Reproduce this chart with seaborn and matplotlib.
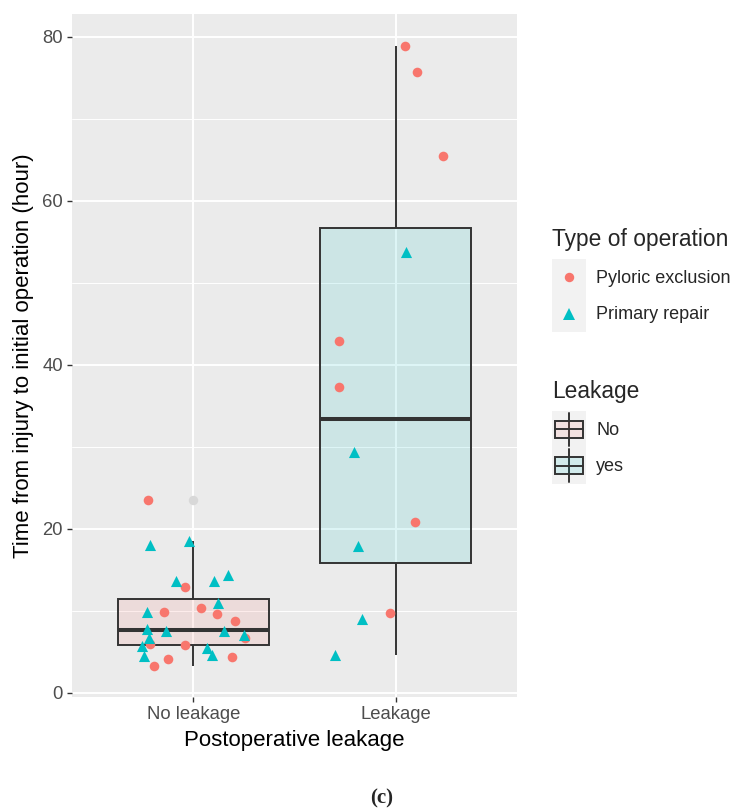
import numpy as np
import pandas as pd
import matplotlib
matplotlib.use("Agg")
import matplotlib.pyplot as plt
import seaborn as sns
from matplotlib.legend_handler import HandlerBase
from matplotlib.patches import Rectangle
from matplotlib.lines import Line2D
from matplotlib.colors import to_rgba

# ---------------- data ----------------
groups = ["No leakage", "Leakage"]
op_types = ["Pyloric exclusion", "Primary repair"]
leak_levels = ["No", "yes"]

# P = Pyloric exclusion, R = Primary repair
no_leak_type = ["P", "R", "R", "R", "P", "R", "R", "R", "P", "P", "P", "P", "R", "R",
                "R", "R", "R", "P", "R", "P", "R", "P", "R", "R", "R", "P", "P", "P"]
no_leak_hours = [23.5, 18.0, 18.5, 13.6, 12.9, 13.6, 14.4, 11.0, 9.9, 10.3, 9.6, 8.8, 9.9, 7.8,
                 7.6, 7.5, 7.1, 6.7, 6.7, 6.0, 5.7, 5.9, 5.5, 4.6, 4.5, 4.1, 4.4, 3.3]
no_leak_jitter = [-0.225, -0.214, -0.023, -0.088, -0.043, 0.104, 0.171, 0.123, -0.143, 0.040,
                  0.119, 0.204, -0.230, -0.230, -0.133, 0.151, 0.250, 0.254, -0.220, -0.214,
                  -0.254, -0.043, 0.068, 0.093, -0.244, -0.123, 0.193, -0.193]

leak_type = ["P", "P", "P", "R", "P", "P", "R", "P", "R", "P", "R", "R"]
leak_hours = [78.9, 75.7, 65.5, 53.8, 42.9, 37.3, 29.4, 20.8, 17.9, 9.8, 9.05, 4.6]
leak_jitter = [0.044, 0.107, 0.234, 0.049, -0.282, -0.282, -0.206, 0.096, -0.186, -0.030,
               -0.165, -0.298]

type_names = {"P": op_types[0], "R": op_types[1]}
df = pd.DataFrame({
    "group": [groups[0]] * len(no_leak_hours) + [groups[1]] * len(leak_hours),
    "hours": no_leak_hours + leak_hours,
    "jitter": no_leak_jitter + leak_jitter,
    "operation": [type_names[t] for t in no_leak_type + leak_type],
})
df["pos"] = df["group"].map({g: i for i, g in enumerate(groups)}) + df["jitter"]

# ---------------- style ----------------
pt_colors = {op_types[0]: "#F8766D", op_types[1]: "#00BFC4"}
pt_markers = {op_types[0]: "o", op_types[1]: "^"}
pt_sizes = {op_types[0]: 48, op_types[1]: 64}
box_colors = {groups[0]: "#F8766D", groups[1]: "#00BFC4"}
box_alpha = 0.13
line_col = "#333333"

sns.set_style("darkgrid", {"axes.facecolor": "#EBEBEB", "grid.color": "white",
                           "figure.facecolor": "white"})
plt.rcParams["font.family"] = ["Liberation Sans", "DejaVu Sans"]

fig = plt.figure(figsize=(7.41, 8.11), dpi=100)
ax = fig.add_axes([72 / 741, 1 - 697 / 811, 445 / 741, 683 / 811])

sns.boxplot(data=df, x="group", y="hours", order=groups, hue="group", hue_order=groups,
            palette=box_colors, width=0.75, linecolor=line_col, linewidth=1.4,
            showcaps=False, legend=False, ax=ax,
            flierprops=dict(marker="o", markerfacecolor="#D8D8D8", markeredgecolor="none",
                            markersize=6.8),
            medianprops=dict(linewidth=2.9, color=line_col))
for patch, g in zip(ax.patches, groups):
    patch.set_facecolor(to_rgba(box_colors[g], box_alpha))
    patch.set_edgecolor(line_col)

for op in op_types:
    sub = df[df["operation"] == op]
    sns.scatterplot(data=sub, x="pos", y="hours", color=pt_colors[op], marker=pt_markers[op],
                    s=pt_sizes[op], linewidth=0, legend=False, zorder=4, ax=ax)

ax.set_xlim(-0.6, 1.6)
ax.set_ylim(-0.5, 82.8)
ax.set_xticks([0, 1])
ax.set_xticklabels(groups)
ax.set_yticks([0, 20, 40, 60, 80])
ax.set_yticks([10, 30, 50, 70], minor=True)
ax.set_axisbelow(True)
ax.grid(False)
ax.grid(which="major", axis="both", color="white", linewidth=1.4)
ax.grid(which="minor", axis="y", color="white", linewidth=0.7)
for s in ax.spines.values():
    s.set_visible(False)
ax.tick_params(which="major", length=3.6, width=1.0, color=line_col, labelcolor="#4D4D4D",
               labelsize=13.3, pad=3, bottom=True, left=True)
ax.tick_params(which="minor", length=0)

ax.set_xlabel("Postoperative leakage", fontsize=16, color="black")
ax.set_ylabel("Time from injury to initial operation (hour)", fontsize=16, color="black")
ax.xaxis.set_label_coords(0.5, -0.064)
ax.xaxis.label.set_va("center")
ax.yaxis.set_label_coords(-0.108, 0.5)
ax.yaxis.label.set_va("center")


# ---------------- legends ----------------
class KeyHandler(HandlerBase):
    def __init__(self, kind, color, marker=None, msize=None, ext=0.0):
        super().__init__()
        self.kind, self.color, self.marker, self.msize, self.ext = kind, color, marker, msize, ext

    def create_artists(self, legend, orig_handle, xdescent, ydescent, width, height,
                       fontsize, trans):
        x0, y0 = -xdescent, -ydescent
        e = self.ext
        arts = [Rectangle((x0, y0 - e), width, height + 2 * e, facecolor="#F2F2F2",
                          edgecolor="none", transform=trans)]
        cx, cy = x0 + width / 2, y0 + height / 2
        if self.kind == "point":
            arts.append(Line2D([cx], [cy], marker=self.marker, markersize=self.msize,
                               color=self.color, linestyle="none", markeredgewidth=0,
                               transform=trans))
        else:
            full = height + 2 * e
            bw, bh = width * 0.84, full * 0.47
            arts.append(Line2D([cx, cx], [y0 - e + full * 0.05, y0 - e + full * 0.95],
                               color=line_col, lw=1.4, transform=trans))
            arts.append(Rectangle((cx - bw / 2, cy - bh / 2), bw, bh,
                                  facecolor=to_rgba(self.color, box_alpha),
                                  edgecolor=line_col, lw=1.4, transform=trans))
            arts.append(Line2D([cx - bw / 2, cx + bw / 2], [cy, cy], color=line_col, lw=1.4,
                               transform=trans))
        return arts


fs = 13
lab_sp = 0.44
ext = lab_sp * fs / 2
title_gap = lab_sp * fs + 3.0  # points between title and keys
common = dict(loc="upper left", bbox_transform=fig.transFigure, frameon=False, borderpad=0,
              borderaxespad=0, fontsize=fs, title_fontsize=16.4, handlelength=1.87,
              handleheight=2.05, labelspacing=lab_sp, handletextpad=0.58, alignment="left")

op_handles = [Line2D([], []) for _ in op_types]
op_map = {h: KeyHandler("point", pt_colors[op], pt_markers[op],
                        6.8 if pt_markers[op] == "o" else 8.3, ext)
          for h, op in zip(op_handles, op_types)}
leg1 = ax.legend(handles=op_handles, labels=op_types, title="Type of operation",
                 bbox_to_anchor=(552 / 741, 1 - 228 / 811), handler_map=op_map, **common)
leg1._legend_box.sep = title_gap
ax.add_artist(leg1)

lk_handles = [Line2D([], []) for _ in leak_levels]
lk_map = {h: KeyHandler("box", box_colors[g], ext=ext) for h, g in zip(lk_handles, groups)}
leg2 = ax.legend(handles=lk_handles, labels=leak_levels, title="Leakage",
                 bbox_to_anchor=(552 / 741, 1 - 380 / 811), handler_map=lk_map, **common)
leg2._legend_box.sep = title_gap

fig.text(382 / 741, 1 - 798 / 811, "(c)", ha="center", va="center", fontsize=15,
         fontweight="bold", family=["Liberation Serif", "DejaVu Serif"])

fig.savefig("out.png", dpi=100)
